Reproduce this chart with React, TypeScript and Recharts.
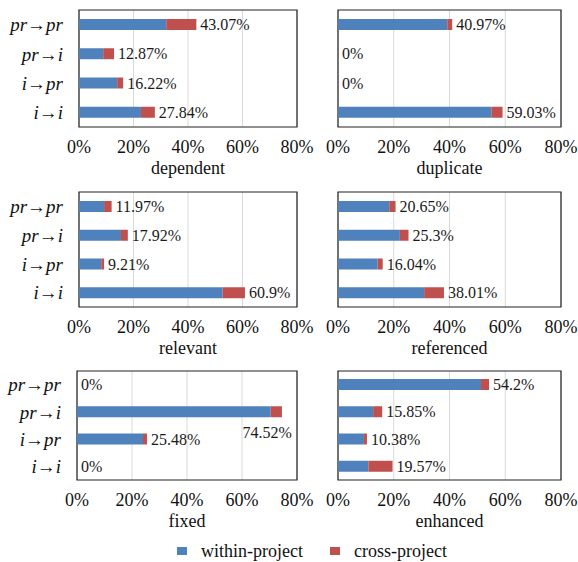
import { Bar, BarChart, CartesianGrid, LabelList, ReferenceArea, XAxis, YAxis } from "recharts";

const CATEGORIES = ["pr→pr", "pr→i", "i→pr", "i→i"];
const X_TICKS = [0, 20, 40, 60, 80];

const DEPENDENT_WITHIN = [32.0, 8.87, 14.0, 22.74];
const DEPENDENT_CROSS = [11.07, 4.0, 2.22, 5.1];
const DUPLICATE_WITHIN = [39.2, 0, 0, 55.0];
const DUPLICATE_CROSS = [1.77, 0, 0, 4.03];
const RELEVANT_WITHIN = [9.2, 15.4, 8.15, 52.7];
const RELEVANT_CROSS = [2.77, 2.52, 1.06, 8.2];
const REFERENCED_WITHIN = [18.4, 22.2, 14.2, 30.9];
const REFERENCED_CROSS = [2.25, 3.1, 1.84, 7.11];
const FIXED_WITHIN = [0, 70.4, 24.0, 0];
const FIXED_CROSS = [0, 4.12, 1.48, 0];
const ENHANCED_WITHIN = [51.3, 12.6, 9.3, 10.9];
const ENHANCED_CROSS = [2.9, 3.25, 1.08, 8.67];

const BLUE = "#4f81bd";
const RED = "#c0504d";
const FONT = "'Liberation Serif', 'Times New Roman', serif";

function buildRows(within: number[], cross: number[]) {
  return CATEGORIES.map((name, i) => {
    const total = Number((within[i] + cross[i]).toFixed(2));
    return { name, within: within[i], cross: cross[i], total, label: `${total}%` };
  });
}

function ValueLabel(props: any) {
  const { x, y, width, height, value } = props;
  const end = Number(x) + Number(width);
  const cy = Number(y) + Number(height) / 2;
  // labels that would run past the frame go under the bar
  if (parseFloat(value) > 65) {
    return (
      <text x={end + 10} y={cy + 21} textAnchor="end" dominantBaseline="central" fontSize={16} fill="#1a1a1a" fontFamily={FONT}>
        {value}
      </text>
    );
  }
  return (
    <text x={end + 4} y={cy} dominantBaseline="central" fontSize={16} fill="#1a1a1a" fontFamily={FONT}>
      {value}
    </text>
  );
}

function Panel({
  title,
  within,
  cross,
  left,
  top,
  height,
  marginTop,
  labels,
  axisWidth = 73,
}: {
  title: string;
  within: number[];
  cross: number[];
  left: number;
  top: number;
  height: number;
  marginTop: number;
  labels: boolean;
  axisWidth?: number;
}) {
  const rows = buildRows(within, cross);
  const width = labels ? 318 : 288;
  const plotLeft = labels ? 6 + axisWidth : 48;
  const plotRight = labels ? 297 : 271;
  const plotBottom = height - 33;

  return (
    <div style={{ position: "absolute", left, top }}>
      <BarChart
        width={width}
        height={height}
        data={rows}
        layout="vertical"
        margin={{ top: marginTop, right: width - plotRight, bottom: 0, left: labels ? 6 : 48 }}
        barSize={11}
      >
        <CartesianGrid horizontal={false} stroke="#d9d9d9" />
        <XAxis
          type="number"
          domain={[0, 80]}
          ticks={X_TICKS}
          interval={0}
          tickFormatter={(v) => `${v}%`}
          axisLine={false}
          tickLine={false}
          tickMargin={7}
          height={33}
          tick={{ fontSize: 18, fill: "#111", fontFamily: FONT }}
        />
        <YAxis
          type="category"
          dataKey="name"
          hide={!labels}
          width={axisWidth}
          axisLine={false}
          tickLine={false}
          tickMargin={10}
          tick={{ fontSize: 19, fill: "#111", fontFamily: FONT, fontStyle: "italic" }}
        />
        <Bar dataKey="within" stackId="a" fill={BLUE} isAnimationActive={false} />
        {/* tiny min size keeps the "0%" labels of empty rows */}
        <Bar dataKey="cross" stackId="a" fill={RED} minPointSize={0.01} isAnimationActive={false}>
          <LabelList dataKey="label" content={<ValueLabel />} />
        </Bar>
        <ReferenceArea x1={0} x2={80} fill="none" stroke="#222" strokeWidth={1.2} ifOverflow="visible" />
      </BarChart>
      <div
        style={{
          position: "absolute",
          left: plotLeft,
          width: plotRight - plotLeft,
          top: plotBottom + 31,
          lineHeight: "20px",
          textAlign: "center",
          fontSize: 18,
          fontFamily: FONT,
          color: "#111",
        }}
      >
        {title}
      </div>
    </div>
  );
}

function LegendItem({ color, label, x }: { color: string; label: string; x: number }) {
  return (
    <div style={{ position: "absolute", left: x, top: 541, display: "flex", alignItems: "center", gap: 14 }}>
      <span style={{ width: 10, height: 8, background: color, display: "inline-block" }} />
      <span style={{ fontSize: 18, fontFamily: FONT, color: "#111", lineHeight: "20px" }}>{label}</span>
    </div>
  );
}

export default function App() {
  return (
    <div style={{ position: "absolute", left: 0, top: 0, width: 578, height: 562, background: "#fff", overflow: "hidden" }}>
      <Panel title="dependent" within={DEPENDENT_WITHIN} cross={DEPENDENT_CROSS} left={0} top={0} height={160} marginTop={10} labels />
      <Panel title="duplicate" within={DUPLICATE_WITHIN} cross={DUPLICATE_CROSS} left={290} top={0} height={160} marginTop={10} labels={false} />
      <Panel title="relevant" within={RELEVANT_WITHIN} cross={RELEVANT_CROSS} left={0} top={180} height={160} marginTop={12} labels />
      <Panel title="referenced" within={REFERENCED_WITHIN} cross={REFERENCED_CROSS} left={290} top={180} height={160} marginTop={12} labels={false} />
      <Panel title="fixed" within={FIXED_WITHIN} cross={FIXED_CROSS} left={0} top={360} height={153} marginTop={11} labels axisWidth={71} />
      <Panel title="enhanced" within={ENHANCED_WITHIN} cross={ENHANCED_CROSS} left={290} top={360} height={153} marginTop={11} labels={false} />
      <LegendItem color={BLUE} label="within-project" x={177} />
      <LegendItem color={RED} label="cross-project" x={330} />
    </div>
  );
}
